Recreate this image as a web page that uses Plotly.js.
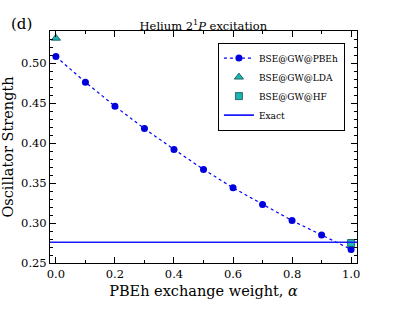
<!DOCTYPE html>
<html><head><meta charset="utf-8">
<script src="https://cdn.plot.ly/plotly-3.0.1.min.js"></script>
<style>html,body{margin:0;padding:0;background:#fff}#c{width:415px;height:312px}</style>
</head><body><div id="c"></div>
<script>
const alphaVals = [0.0,0.1,0.2,0.3,0.4,0.5,0.6,0.7,0.8,0.9,1.0];
const pbehVals = [0.508,0.476,0.446,0.418,0.392,0.367,0.344,0.323,0.303,0.285,0.267];
const ldaX = [0.0];
const ldaVals = [0.531];
const hfX = [1.0];
const hfVals = [0.275];
const exactX = [-0.02, 1.02];
const exactVals = [0.276, 0.276];

const F = "DejaVu Serif, Liberation Serif, serif";
const FL = "DejaVu Serif Condensed, DejaVu Serif, serif";
const traces = [
  {x: alphaVals, y: pbehVals, name: "BSE@GW@PBEh", mode: "lines+markers",
   line: {color: "#0000ff", dash: "dot", width: 1.2},
   marker: {color: "#0000dd", size: 7, symbol: "circle"}},
  {x: ldaX, y: ldaVals, name: "BSE@GW@LDA", mode: "markers",
   marker: {color: "#1fb3b3", size: 8, symbol: "triangle-up", line: {color: "#0a5050", width: 0.8}}},
  {x: hfX, y: hfVals, name: "BSE@GW@HF", mode: "markers",
   marker: {color: "#1fb3b3", size: 7, symbol: "square", line: {color: "#0a5050", width: 0.8}}},
  {x: exactX, y: exactVals, name: "Exact", mode: "lines",
   line: {color: "#1a1aff", width: 1.6}}
];
const axCommon = {
  showgrid: false, zeroline: false, showline: true, linecolor: "#000", linewidth: 1,
  mirror: "ticks", ticks: "inside", ticklen: 6, tickcolor: "#000",
  tickfont: {family: F, size: 11.5, color: "#000"},
};
const layout = {
  width: 415, height: 312,
  margin: {l: 50, r: 58, t: 31, b: 49},
  paper_bgcolor: "#fff", plot_bgcolor: "#fff",
  font: {family: F, color: "#000"},
  title: {text: "Helium 2<sup>1</sup><i>P</i> excitation", font: {family: F, size: 11.5},
          x: 0.49, xanchor: "center", y: 0.918, yanchor: "middle"},
  xaxis: Object.assign({}, axCommon, {
    range: [-0.02, 1.02], dtick: 0.2, tickformat: ".1f",
    minor: {dtick: 0.1, ticks: "inside", ticklen: 3, tickcolor: "#000"},
    title: {text: "PBEh exchange weight, <i>α</i>", font: {family: F, size: 14.5}, standoff: 6}
  }),
  yaxis: Object.assign({}, axCommon, {
    range: [0.25, 0.54], dtick: 0.05, tickformat: ".2f",
    minor: {dtick: 0.01, ticks: "inside", ticklen: 3, tickcolor: "#000"},
    title: {text: "Oscillator Strength", font: {family: F, size: 14.5}, standoff: 4}
  }),
  legend: {x: 0.547, y: 0.95, xanchor: "left", yanchor: "top",
    bgcolor: "#fff", bordercolor: "#000", borderwidth: 1,
    font: {family: FL, size: 10}, tracegroupgap: 0, itemwidth: 30},
  annotations: [{text: "(d)", xref: "paper", yref: "paper", x: -0.094, y: 1.03,
    xanchor: "center", yanchor: "middle", showarrow: false, font: {family: F, size: 15}}],
  showlegend: true
};
Plotly.newPlot("c", traces, layout, {displayModeBar: false, staticPlot: true});
</script></body></html>
